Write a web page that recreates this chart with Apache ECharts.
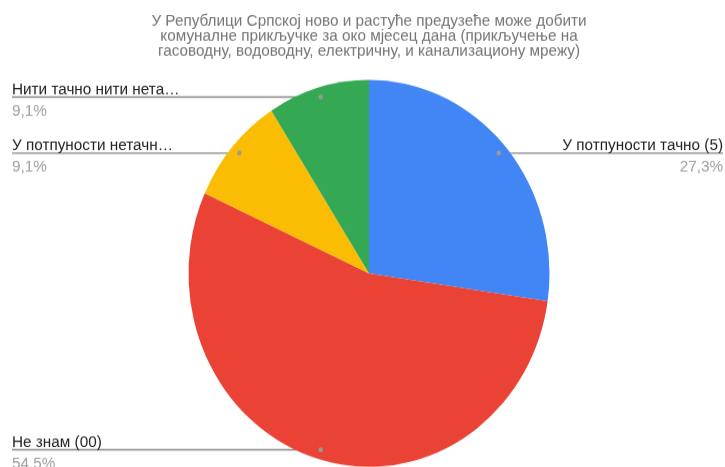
<!DOCTYPE html>
<html>
<head>
<meta charset="utf-8">
<script src="https://cdn.jsdelivr.net/npm/echarts@6/dist/echarts.min.js"></script>
<style>
  html, body { margin: 0; padding: 0; background: #fff; overflow: hidden; }
  #chart { width: 725px; height: 480px; transform: scaleY(1.072); transform-origin: 0 0; }
</style>
</head>
<body>
<div id="chart"></div>
<script>
// slices, clockwise from 12 o'clock
const names = ['У потпуности тачно (5)', 'Не знам (00)', 'У потпуности нетачн…', 'Нити тачно нити нета…'];
const values = [27.3, 54.5, 9.1, 9.1];
const colors = ['#4285f4', '#ea4335', '#fbbc04', '#34a853'];
const titleText = 'У Републици Српској ново и растуће предузеће може добити\nкомуналне прикључке за око мјесец дана (прикључење на\nгасоводну, водоводну, електричну, и канализациону мрежу)';

const cx = 369, cy = 255, R = 180.5;
const total = values.reduce((a, b) => a + b, 0);

// where the leader dot sits in each slice (mid angle, just inside the rim)
let acc = 0;
const dots = values.map(v => {
  const mid = (90 - (acc + v / 2) / total * 360) * Math.PI / 180;
  acc += v;
  return [cx + 0.95 * R * Math.cos(mid), cy - 0.95 * R * Math.sin(mid)];
});

const chart = echarts.init(document.getElementById('chart'));
chart.setOption({
  animation: false,
  title: {
    text: titleText,
    left: 369,
    top: 13,
    padding: 0,
    textAlign: 'center',
    textStyle: { fontFamily: 'Liberation Sans', fontSize: 15.3, fontWeight: 'normal', color: '#757575', lineHeight: 14 }
  },
  series: [{
    type: 'pie',
    center: [cx, cy],
    radius: R,
    startAngle: 90,
    avoidLabelOverlap: false,
    itemStyle: { borderWidth: 0 },
    emphasis: { disabled: true },
    data: names.map((n, i) => ({ name: n, value: values[i], itemStyle: { color: colors[i] } })),
    label: {
      show: true,
      fontFamily: 'Liberation Sans',
      formatter: p => '{n|' + p.name + '}\n{p|' + String(p.value).replace('.', ',') + '%}',
      rich: {
        n: { fontFamily: 'Liberation Sans', fontSize: 15.3, color: '#222', lineHeight: 20 },
        p: { fontFamily: 'Liberation Sans', fontSize: 15.3, color: '#9e9e9e', lineHeight: 20 }
      }
    },
    labelLine: { show: true, length: 10, length2: 10, lineStyle: { color: '#888', width: 1.3 } },
    labelLayout: p => {
      const d = dots[p.dataIndex];
      const left = d[0] < cx;
      const x = left ? 12 : 723;
      return {
        x: x, y: d[1] + 3, align: left ? 'left' : 'right', verticalAlign: 'middle',
        labelLinePoints: [[d[0], d[1]], [d[0], d[1]], [x, d[1]]]
      };
    }
  }],
  graphic: dots.map(d => ({
    type: 'circle', shape: { cx: d[0], cy: d[1], r: 2.3 }, style: { fill: '#9a9a9a' }, z: 100
  }))
});
</script>
</body>
</html>
